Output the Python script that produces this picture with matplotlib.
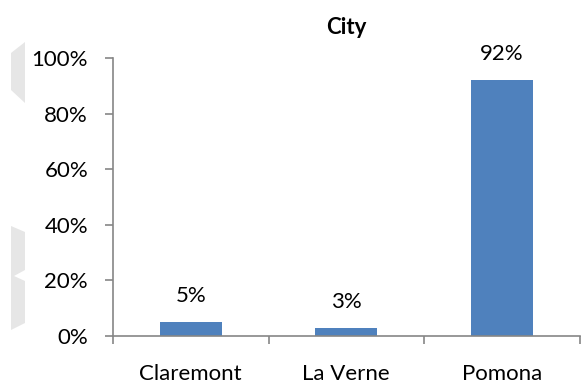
import matplotlib.pyplot as plt
from matplotlib.patches import Polygon
from matplotlib.ticker import PercentFormatter

cities = ['Claremont', 'La Verne', 'Pomona']
share = [0.05, 0.03, 0.92]
y_ticks = [0, 0.2, 0.4, 0.6, 0.8, 1.0]

plt.rcParams['font.family'] = ['Lato', 'DejaVu Sans']
fs = 16

fig = plt.figure(figsize=(5.81, 3.86), dpi=100)
ax = fig.add_axes([0.1945, 0.1295, 0.803, 0.7202])

x = range(len(cities))
bars = ax.bar(x, share, width=0.4, color='#4F81BD')
for b, v in zip(bars, share):
    ax.annotate(f'{v:.0%}', (b.get_x() + b.get_width() / 2, v),
                xytext=(0, 16), textcoords='offset pixels',
                ha='center', va='bottom', fontsize=fs)

ax.set_xlim(-0.5, 2.5)
ax.set_ylim(0, 1)
ax.set_yticks(y_ticks)
ax.yaxis.set_major_formatter(PercentFormatter(1.0, decimals=0))
ax.set_xticks(list(x))
ax.set_xticklabels(cities)
ax.set_xticks([-0.5, 0.5, 1.5, 2.5], minor=True)

axis_gray = '#868686'
for side in ['top', 'right']:
    ax.spines[side].set_visible(False)
for side in ['left', 'bottom']:
    ax.spines[side].set_color(axis_gray)
    ax.spines[side].set_linewidth(1.2)

ax.tick_params(axis='y', length=6, color=axis_gray, width=1.2, pad=12, labelsize=fs)
ax.tick_params(axis='x', which='major', length=0, pad=20, labelsize=fs)
ax.tick_params(axis='x', which='minor', length=6, color=axis_gray, width=1.2)

ax.set_title('City', fontsize=fs, fontweight='bold', pad=17)

# light gray side marks on the left margin
W, H = 581, 386
def px(pts):
    return [(a / W, 1 - b / H) for a, b in pts]

fig.patches.append(Polygon(px([(25, 42), (11, 53), (11, 90), (25, 103)]),
                           closed=True, transform=fig.transFigure,
                           facecolor='#E6E6E6', edgecolor='none'))
fig.patches.append(Polygon(px([(11, 226), (25, 232), (25, 270), (14, 276),
                               (25, 281), (25, 323), (11, 330)]),
                           closed=True, transform=fig.transFigure,
                           facecolor='#E6E6E6', edgecolor='none'))

fig.savefig('out.png', dpi=100)
